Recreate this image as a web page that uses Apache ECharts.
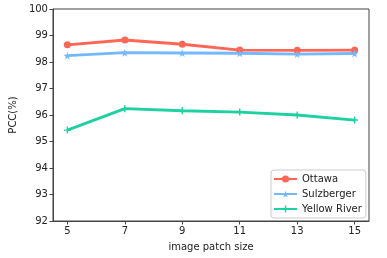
<!DOCTYPE html>
<html><head><meta charset="utf-8">
<script src="https://cdn.jsdelivr.net/npm/echarts@6/dist/echarts.min.js"></script>
<style>html,body{margin:0;padding:0;background:#fff}#c{width:387px;height:258px}</style>
</head><body><div id="c"></div>
<script>
const patchSizes = [5, 7, 9, 11, 13, 15];
const ottawa = [98.65, 98.83, 98.67, 98.45, 98.44, 98.45];
const sulzberger = [98.24, 98.35, 98.34, 98.33, 98.30, 98.32];
const yellowRiver = [95.43, 96.24, 96.16, 96.11, 96.00, 95.81];
const yTicks = [92, 93, 94, 95, 96, 97, 98, 99, 100];

const STAR = 'path://M50,0 L61,35 L98,35 L68,57 L79,91 L50,70 L21,91 L32,57 L2,35 L39,35 Z';
const PLUS = 'path://M4,0 L6,0 L6,4 L10,4 L10,6 L6,6 L6,10 L4,10 L4,6 L0,6 L0,4 L4,4 Z';

function pts(arr){ return patchSizes.map((x,i)=>[x, arr[i]]); }
function ser(name, arr, color, symbol, size){
  return {name, type:'line', data:pts(arr), symbol, symbolSize:size,
    lineStyle:{color, width:2.8}, itemStyle:{color}, emphasis:{disabled:true}, animation:false};
}
const font = 'DejaVu Sans';
const chart = echarts.init(document.getElementById('c'), null, {renderer:'canvas'});
chart.setOption({
  animation:false,
  grid:{left:43, right:18, top:9, bottom:37, show:true, borderColor:'#444', borderWidth:1},
  xAxis:{type:'value', min:4.5, max:15.5, name:'image patch size', nameLocation:'middle', nameGap:21,
    nameTextStyle:{fontFamily:font, fontSize:10, color:'#222'},
    axisLine:{lineStyle:{color:'#444'}},
    axisTick:{show:true, length:3.5, lineStyle:{color:'#444'}, customValues:patchSizes},
    axisLabel:{fontFamily:font, fontSize:10, color:'#222', margin:5, customValues:patchSizes},
    splitLine:{show:false}},
  yAxis:{type:'value', min:92, max:100, interval:1, name:'PCC(%)', nameLocation:'middle', nameGap:28,
    nameTextStyle:{fontFamily:font, fontSize:10, color:'#222'},
    axisLine:{show:true, lineStyle:{color:'#444'}},
    axisTick:{show:true, length:3.5, lineStyle:{color:'#444'}, customValues:yTicks},
    axisLabel:{fontFamily:font, fontSize:10, color:'#222', margin:5, customValues:yTicks},
    splitLine:{show:false}},
  legend:{orient:'vertical', left:271, top:170, itemWidth:23, itemHeight:9, itemGap:5,
    padding:[4,4,4,2], borderColor:'#ccc', borderWidth:1, borderRadius:3, backgroundColor:'#fff',
    textStyle:{fontFamily:font, fontSize:10, color:'#222'},
    data:['Ottawa','Sulzberger','Yellow River']},
  series:[
    ser('Ottawa', ottawa, '#ff6655', 'circle', 7),
    ser('Sulzberger', sulzberger, '#74b9ff', STAR, 8),
    ser('Yellow River', yellowRiver, '#1dd1a1', PLUS, 7)
  ]
});
</script></body></html>
